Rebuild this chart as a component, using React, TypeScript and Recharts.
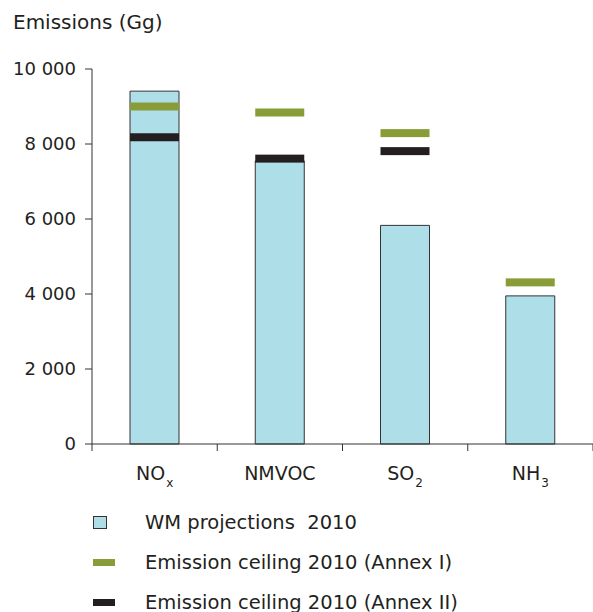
import React from 'react';
import { ComposedChart, Bar, XAxis, YAxis, Legend } from 'recharts';

const categories = ['NOx', 'NMVOC', 'SO2', 'NH3'];
const labelMain = ['NO', 'NMVOC', 'SO', 'NH'];
const labelSub = ['x', '', '2', '3'];
const wmProjections = [9410, 7550, 5830, 3950];
const ceilingAnnexI = [9000, 8840, 8290, 4310];
const ceilingAnnexII: (number | null)[] = [8180, 7610, 7810, null];
const yTicks = [0, 2000, 4000, 6000, 8000, 10000];
const seriesNames = ['WM projections  2010', 'Emission ceiling 2010 (Annex I)', 'Emission ceiling 2010 (Annex II)'];
const seriesOrder = ['wm', 'a1', 'a2'];

const data = categories.map((c, i) => ({
  cat: c,
  wm: wmProjections[i],
  a1: ceilingAnnexI[i],
  a2: ceilingAnnexII[i],
}));

const FONT = '"DejaVu Sans", Verdana, sans-serif';
const TEXT = '#231F20';
const AXIS = '#333333';
const BLUE = '#AEDFE8';
const GREEN = '#889C37';
const BLACK = '#231F20';
const BAR_SIZE = 49;

const Marker = (props: any) => {
  const { x, y, width, fill } = props;
  if (y == null || isNaN(y)) return null;
  return <rect x={x} y={y - 4} width={width} height={8} fill={fill} />;
};

const CategoryTick = (props: any) => {
  const { x, y, payload, index, visibleTicksCount, width } = props;
  const half =
    payload && typeof payload.offset === 'number' && payload.offset > 0
      ? payload.offset
      : width / (visibleTicksCount || 4) / 2;
  const axisY = y - 7;
  const i = categories.indexOf(payload.value);
  const isLast = index === (visibleTicksCount || categories.length) - 1;
  return (
    <g>
      <line x1={x - half} x2={x - half} y1={axisY} y2={axisY + 7} stroke={AXIS} strokeWidth={1} />
      {isLast ? (
        <line x1={x + half} x2={x + half} y1={axisY} y2={axisY + 7} stroke={AXIS} strokeWidth={1} />
      ) : null}
      <text x={x} y={axisY + 36} textAnchor="middle" fontFamily={FONT} fontSize={19} fill={TEXT}>
        <tspan>{labelMain[i]}</tspan>
        {labelSub[i] ? (
          <tspan dx={1} dy={7} fontSize={12}>
            {labelSub[i]}
          </tspan>
        ) : null}
      </text>
    </g>
  );
};

const LegendContent = (props: any) => {
  const payload = [...(props.payload || [])].sort(
    (a: any, b: any) => seriesOrder.indexOf(a.dataKey) - seriesOrder.indexOf(b.dataKey)
  );
  return (
    <div style={{ paddingTop: 30, fontFamily: FONT }}>
      {payload.map((p: any) => (
        <div key={p.dataKey} style={{ height: 40, display: 'flex', alignItems: 'center' }}>
          <div style={{ width: 52, marginLeft: 93, display: 'flex', alignItems: 'center' }}>
            {p.dataKey === 'wm' ? (
              <div style={{ width: 12, height: 11, background: BLUE, border: `1px solid ${AXIS}` }} />
            ) : (
              <div style={{ width: 22, height: 7, background: p.color }} />
            )}
          </div>
          <span style={{ fontSize: 19.5, color: TEXT, whiteSpace: 'pre' }}>{p.value}</span>
        </div>
      ))}
    </div>
  );
};

export default function App() {
  return (
    <div style={{ width: 593, height: 612, position: 'relative', overflow: 'hidden' }}>
      <style>{'body{margin:0;overflow:hidden;}'}</style>
      <ComposedChart
        width={593}
        height={612}
        data={data}
        margin={{ top: 69, right: 0, bottom: 0, left: 0 }}
        barGap={-BAR_SIZE}
      >
        <XAxis
          dataKey="cat"
          type="category"
          interval={0}
          tickLine={false}
          tickSize={7}
          tickMargin={0}
          tick={<CategoryTick />}
          axisLine={{ stroke: AXIS, strokeWidth: 1 }}
          height={28}
        />
        <YAxis
          domain={[0, 10000]}
          ticks={yTicks}
          interval={0}
          width={92}
          tickSize={7}
          tickMargin={9}
          tickLine={{ stroke: AXIS }}
          axisLine={{ stroke: AXIS }}
          tick={{ fontFamily: FONT, fontSize: 18, fill: TEXT }}
          tickFormatter={(v: number) => v.toLocaleString('en-US').replace(/,/g, ' ')}
          label={{
            content: () => (
              <text x={13} y={29} fontFamily={FONT} fontSize={20} fill={TEXT}>
                Emissions (Gg)
              </text>
            ),
          }}
        />
        <Bar
          dataKey="wm"
          name={seriesNames[0]}
          fill={BLUE}
          stroke={AXIS}
          strokeWidth={1}
          barSize={BAR_SIZE}
          isAnimationActive={false}
        />
        <Bar
          dataKey="a1"
          name={seriesNames[1]}
          fill={GREEN}
          barSize={BAR_SIZE}
          shape={<Marker />}
          isAnimationActive={false}
        />
        <Bar
          dataKey="a2"
          name={seriesNames[2]}
          fill={BLACK}
          barSize={BAR_SIZE}
          shape={<Marker />}
          isAnimationActive={false}
        />
        <Legend
          verticalAlign="bottom"
          align="left"
          content={<LegendContent />}
          wrapperStyle={{ left: 0, width: 593, height: 140, overflow: 'visible' }}
        />
      </ComposedChart>
    </div>
  );
}
